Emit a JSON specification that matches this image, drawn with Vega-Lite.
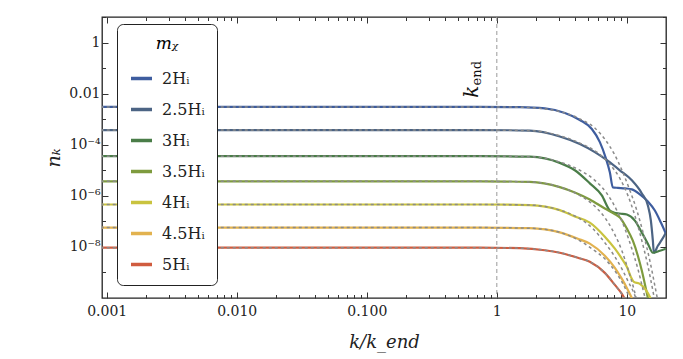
{
  "$schema": "https://vega.github.io/schema/vega-lite/v6.json",
  "width": 564,
  "height": 281,
  "autosize": {"type": "none"},
  "padding": {"left": 102, "top": 17, "right": 17, "bottom": 61},
  "background": "white",
  "config": {
    "font": "DejaVu Serif",
    "view": {"stroke": "#222", "strokeWidth": 1.3},
    "axis": {"grid": false, "domain": false, "labelFont": "DejaVu Serif", "labelFontSize": 14, "labelColor": "#222", "tickColor": "#333", "tickWidth": 1, "titleFont": "DejaVu Serif", "titleFontWeight": "normal", "titleColor": "#222"},
    "legend": {"labelFont": "DejaVu Serif", "titleFont": "DejaVu Serif"},
    "text": {"font": "DejaVu Serif"}
  },
  "datasets": {
    "solid": [
      {"m":"2Hᵢ","k":0.0009,"n":3.02e-3},{"m":"2Hᵢ","k":0.74,"n":3.02e-3},{"m":"2Hᵢ","k":1.5,"n":2.95e-3},{"m":"2Hᵢ","k":2.34,"n":2.65e-3},{"m":"2Hᵢ","k":3.34,"n":1.75e-3},{"m":"2Hᵢ","k":4.35,"n":9.31e-4},{"m":"2Hᵢ","k":5.38,"n":4.11e-4},{"m":"2Hᵢ","k":6.2,"n":1.26e-4},{"m":"2Hᵢ","k":6.89,"n":2.97e-5},{"m":"2Hᵢ","k":7.4,"n":8.34e-6},{"m":"2Hᵢ","k":7.8,"n":2.14e-6},{"m":"2Hᵢ","k":8.53,"n":2.05e-6},{"m":"2Hᵢ","k":9.66,"n":1.96e-6},{"m":"2Hᵢ","k":10.92,"n":1.79e-6},{"m":"2Hᵢ","k":12.59,"n":1.14e-6},{"m":"2Hᵢ","k":14.51,"n":6.02e-7},{"m":"2Hᵢ","k":16.42,"n":2.66e-7},{"m":"2Hᵢ","k":18.27,"n":8.97e-8},{"m":"2Hᵢ","k":19.95,"n":3.31e-8},
      {"m":"2.5Hᵢ","k":0.0009,"n":3.76e-4},{"m":"2.5Hᵢ","k":0.74,"n":3.76e-4},{"m":"2.5Hᵢ","k":1.79,"n":3.55e-4},{"m":"2.5Hᵢ","k":3.05,"n":2.1e-4},{"m":"2.5Hᵢ","k":4.35,"n":1.06e-4},{"m":"2.5Hᵢ","k":5.67,"n":5.12e-5},{"m":"2.5Hᵢ","k":7.02,"n":2.48e-5},{"m":"2.5Hᵢ","k":8.83,"n":1.0e-5},{"m":"2.5Hᵢ","k":10.92,"n":4.04e-6},{"m":"2.5Hᵢ","k":13.04,"n":1.24e-6},{"m":"2.5Hᵢ","k":14.51,"n":4.19e-7},{"m":"2.5Hᵢ","k":15.3,"n":1.07e-7},{"m":"2.5Hᵢ","k":15.85,"n":1.75e-8},{"m":"2.5Hᵢ","k":16.14,"n":5.91e-9},{"m":"2.5Hᵢ","k":17.32,"n":1.11e-8},{"m":"2.5Hᵢ","k":18.6,"n":1.92e-8},{"m":"2.5Hᵢ","k":19.95,"n":3.62e-8},
      {"m":"3Hᵢ","k":0.0009,"n":3.56e-5},{"m":"3Hᵢ","k":0.74,"n":3.56e-5},{"m":"3Hᵢ","k":1.79,"n":3.4e-5},{"m":"3Hᵢ","k":3.05,"n":1.95e-5},{"m":"3Hᵢ","k":3.98,"n":1.0e-5},{"m":"3Hᵢ","k":5.19,"n":3.08e-6},{"m":"3Hᵢ","k":6.42,"n":1.04e-6},{"m":"3Hᵢ","k":7.4,"n":2.66e-7},{"m":"3Hᵢ","k":7.94,"n":2.22e-7},{"m":"3Hᵢ","k":8.83,"n":2.03e-7},{"m":"3Hᵢ","k":10.0,"n":1.85e-7},{"m":"3Hᵢ","k":11.52,"n":1.07e-7},{"m":"3Hᵢ","k":13.04,"n":3.62e-8},{"m":"3Hᵢ","k":14.51,"n":1.34e-8},{"m":"3Hᵢ","k":15.85,"n":5.91e-9},{"m":"3Hᵢ","k":17.95,"n":7.08e-9},{"m":"3Hᵢ","k":19.95,"n":8.5e-9},
      {"m":"3.5Hᵢ","k":0.0009,"n":3.69e-6},{"m":"3.5Hᵢ","k":0.74,"n":3.69e-6},{"m":"3.5Hᵢ","k":1.79,"n":3.5e-6},{"m":"3.5Hᵢ","k":3.05,"n":2.2e-6},{"m":"3.5Hᵢ","k":3.98,"n":1.36e-6},{"m":"3.5Hᵢ","k":5.19,"n":7.22e-7},{"m":"3.5Hᵢ","k":6.77,"n":3.19e-7},{"m":"3.5Hᵢ","k":7.94,"n":2.03e-7},{"m":"3.5Hᵢ","k":8.83,"n":1.41e-7},{"m":"3.5Hᵢ","k":10.0,"n":5.21e-8},{"m":"3.5Hᵢ","k":11.12,"n":1.75e-8},{"m":"3.5Hᵢ","k":12.15,"n":4.51e-9},{"m":"3.5Hᵢ","k":13.04,"n":1.16e-9},{"m":"3.5Hᵢ","k":13.75,"n":3.56e-10},{"m":"3.5Hᵢ","k":14.51,"n":1.0e-10},{"m":"3.5Hᵢ","k":14.77,"n":6.4e-11},
      {"m":"4Hᵢ","k":0.0009,"n":4.58e-7},{"m":"4Hᵢ","k":0.74,"n":4.58e-7},{"m":"4Hᵢ","k":1.79,"n":4.35e-7},{"m":"4Hᵢ","k":3.05,"n":2.75e-7},{"m":"4Hᵢ","k":3.98,"n":1.55e-7},{"m":"4Hᵢ","k":5.19,"n":8.97e-8},{"m":"4Hᵢ","k":6.77,"n":2.52e-8},{"m":"4Hᵢ","k":8.09,"n":8.5e-9},{"m":"4Hᵢ","k":9.16,"n":3.43e-9},{"m":"4Hᵢ","k":10.0,"n":1.66e-9},{"m":"4Hᵢ","k":10.73,"n":6.71e-10},{"m":"4Hᵢ","k":11.32,"n":4.26e-10},{"m":"4Hᵢ","k":12.59,"n":3.56e-10},{"m":"4Hᵢ","k":14.0,"n":2.07e-10},{"m":"4Hᵢ","k":15.57,"n":7.6e-11},{"m":"4Hᵢ","k":16.14,"n":4.9e-11},
      {"m":"4.5Hᵢ","k":0.0009,"n":5.7e-8},{"m":"4.5Hᵢ","k":0.74,"n":5.7e-8},{"m":"4.5Hᵢ","k":1.79,"n":5.4e-8},{"m":"4.5Hᵢ","k":3.05,"n":3.7e-8},{"m":"4.5Hᵢ","k":4.2,"n":2.1e-8},{"m":"4.5Hᵢ","k":5.19,"n":1.34e-8},{"m":"4.5Hᵢ","k":6.77,"n":4.51e-9},{"m":"4.5Hᵢ","k":8.09,"n":1.52e-9},{"m":"4.5Hᵢ","k":9.16,"n":5.6e-10},{"m":"4.5Hᵢ","k":10.0,"n":2.48e-10},{"m":"4.5Hᵢ","k":10.73,"n":1.2e-10},{"m":"4.5Hᵢ","k":11.32,"n":6.4e-11},
      {"m":"5Hᵢ","k":0.0009,"n":9.3e-9},{"m":"5Hᵢ","k":0.74,"n":9.3e-9},{"m":"5Hᵢ","k":1.5,"n":8.9e-9},{"m":"5Hᵢ","k":2.34,"n":7.4e-9},{"m":"5Hᵢ","k":3.05,"n":5.91e-9},{"m":"5Hᵢ","k":4.2,"n":3.76e-9},{"m":"5Hᵢ","k":5.19,"n":2.61e-9},{"m":"5Hᵢ","k":6.77,"n":9.64e-10},{"m":"5Hᵢ","k":8.09,"n":3.25e-10},{"m":"5Hᵢ","k":9.16,"n":1.44e-10},{"m":"5Hᵢ","k":10.0,"n":6.4e-11}
    ],
    "dashed": [
      {"m":"2Hᵢ","k":0.0009,"n":3.02e-3},{"m":"2Hᵢ","k":0.74,"n":3.02e-3},{"m":"2Hᵢ","k":1.5,"n":2.95e-3},{"m":"2Hᵢ","k":3.05,"n":2.0e-3},{"m":"2Hᵢ","k":4.35,"n":1.02e-3},{"m":"2Hᵢ","k":5.67,"n":4.51e-4},{"m":"2Hᵢ","k":6.77,"n":1.66e-4},{"m":"2Hᵢ","k":8.09,"n":3.9e-5},{"m":"2Hᵢ","k":9.31,"n":8.34e-6},{"m":"2Hᵢ","k":10.55,"n":1.63e-6},{"m":"2Hᵢ","k":11.94,"n":2.66e-7},{"m":"2Hᵢ","k":13.51,"n":2.76e-8},{"m":"2Hᵢ","k":15.03,"n":2.86e-9},{"m":"2Hᵢ","k":16.72,"n":1.89e-10},{"m":"2Hᵢ","k":17.32,"n":7.6e-11},
      {"m":"2.5Hᵢ","k":0.0009,"n":3.76e-4},{"m":"2.5Hᵢ","k":0.74,"n":3.76e-4},{"m":"2.5Hᵢ","k":1.79,"n":3.55e-4},{"m":"2.5Hᵢ","k":3.05,"n":2.25e-4},{"m":"2.5Hᵢ","k":4.35,"n":1.16e-4},{"m":"2.5Hᵢ","k":5.88,"n":5.12e-5},{"m":"2.5Hᵢ","k":7.4,"n":1.72e-5},{"m":"2.5Hᵢ","k":8.83,"n":4.84e-6},{"m":"2.5Hᵢ","k":10.18,"n":1.04e-6},{"m":"2.5Hᵢ","k":11.52,"n":1.69e-7},{"m":"2.5Hᵢ","k":13.04,"n":1.75e-8},{"m":"2.5Hᵢ","k":14.51,"n":1.82e-9},{"m":"2.5Hᵢ","k":16.14,"n":1.2e-10},{"m":"2.5Hᵢ","k":16.42,"n":7.6e-11},
      {"m":"3Hᵢ","k":0.0009,"n":3.56e-5},{"m":"3Hᵢ","k":0.74,"n":3.56e-5},{"m":"3Hᵢ","k":1.79,"n":3.4e-5},{"m":"3Hᵢ","k":3.05,"n":2.1e-5},{"m":"3Hᵢ","k":4.35,"n":1.0e-5},{"m":"3Hᵢ","k":5.67,"n":4.04e-6},{"m":"3Hᵢ","k":7.02,"n":1.24e-6},{"m":"3Hᵢ","k":8.38,"n":2.66e-7},{"m":"3Hᵢ","k":9.66,"n":5.21e-8},{"m":"3Hᵢ","k":10.92,"n":8.5e-9},{"m":"3Hᵢ","k":12.15,"n":1.39e-9},{"m":"3Hᵢ","k":13.51,"n":1.57e-10},{"m":"3Hᵢ","k":14.0,"n":7.6e-11},
      {"m":"3.5Hᵢ","k":0.0009,"n":3.69e-6},{"m":"3.5Hᵢ","k":0.74,"n":3.69e-6},{"m":"3.5Hᵢ","k":1.79,"n":3.5e-6},{"m":"3.5Hᵢ","k":3.05,"n":2.2e-6},{"m":"3.5Hᵢ","k":4.2,"n":1.14e-6},{"m":"3.5Hᵢ","k":5.47,"n":4.58e-7},{"m":"3.5Hᵢ","k":6.77,"n":1.41e-7},{"m":"3.5Hᵢ","k":7.94,"n":3.62e-8},{"m":"3.5Hᵢ","k":9.16,"n":7.08e-9},{"m":"3.5Hᵢ","k":10.18,"n":1.39e-9},{"m":"3.5Hᵢ","k":11.32,"n":2.26e-10},{"m":"3.5Hᵢ","k":11.94,"n":7.6e-11},
      {"m":"4Hᵢ","k":0.0009,"n":4.58e-7},{"m":"4Hᵢ","k":0.74,"n":4.58e-7},{"m":"4Hᵢ","k":1.79,"n":4.35e-7},{"m":"4Hᵢ","k":3.05,"n":2.75e-7},{"m":"4Hᵢ","k":4.2,"n":1.41e-7},{"m":"4Hᵢ","k":5.47,"n":5.21e-8},{"m":"4Hᵢ","k":6.77,"n":1.46e-8},{"m":"4Hᵢ","k":8.09,"n":4.11e-9},{"m":"4Hᵢ","k":9.16,"n":1.39e-9},{"m":"4Hᵢ","k":10.18,"n":4.67e-10},{"m":"4Hᵢ","k":11.32,"n":1.57e-10},{"m":"4Hᵢ","k":11.94,"n":7.6e-11},
      {"m":"4.5Hᵢ","k":0.0009,"n":5.7e-8},{"m":"4.5Hᵢ","k":0.74,"n":5.7e-8},{"m":"4.5Hᵢ","k":1.79,"n":5.4e-8},{"m":"4.5Hᵢ","k":3.05,"n":3.7e-8},{"m":"4.5Hᵢ","k":4.2,"n":1.92e-8},{"m":"4.5Hᵢ","k":5.38,"n":8.5e-9},{"m":"4.5Hᵢ","k":6.77,"n":3.43e-9},{"m":"4.5Hᵢ","k":8.09,"n":1.16e-9},{"m":"4.5Hᵢ","k":9.16,"n":4.26e-10},{"m":"4.5Hᵢ","k":10.18,"n":1.44e-10},{"m":"4.5Hᵢ","k":10.73,"n":7.6e-11},
      {"m":"5Hᵢ","k":0.0009,"n":9.3e-9},{"m":"5Hᵢ","k":0.74,"n":9.3e-9},{"m":"5Hᵢ","k":1.5,"n":8.9e-9},{"m":"5Hᵢ","k":2.34,"n":7.4e-9},{"m":"5Hᵢ","k":3.05,"n":5.91e-9},{"m":"5Hᵢ","k":4.2,"n":3.76e-9},{"m":"5Hᵢ","k":5.19,"n":2.61e-9},{"m":"5Hᵢ","k":6.77,"n":9.64e-10},{"m":"5Hᵢ","k":8.09,"n":3.25e-10},{"m":"5Hᵢ","k":9.16,"n":1.44e-10},{"m":"5Hᵢ","k":10.0,"n":6.4e-11}
    ]
  },
  "layer": [
    {
      "data": {"name": "solid"},
      "mark": {"type": "line", "strokeWidth": 2.2, "interpolate": "monotone", "clip": true},
      "encoding": {
        "x": {"field": "k", "type": "quantitative", "scale": {"type": "log", "domain": [0.00092, 20], "nice": false},
          "axis": {"orient": "bottom", "values": [0.001, 0.01, 0.1, 1, 10], "tickSize": -6, "labelPadding": 12,
            "labelExpr": "datum.value < 0.005 ? '0.001' : datum.value < 0.05 ? '0.010' : datum.value < 0.5 ? '0.100' : datum.value < 5 ? '1' : '10'",
            "title": "k/k_end", "titleFontSize": 18, "titleFontStyle": "italic", "titlePadding": 15}},
        "y": {"field": "n", "type": "quantitative", "scale": {"type": "log", "domain": [1e-10, 10], "nice": false},
          "axis": {"orient": "left", "values": [1, 0.01, 0.0001, 0.000001, 0.00000001], "tickSize": -6, "labelPadding": 8,
            "labelExpr": "datum.value > 0.5 ? '1' : datum.value > 0.005 ? '0.01' : datum.value > 5e-5 ? '10⁻⁴' : datum.value > 5e-7 ? '10⁻⁶' : '10⁻⁸'",
            "title": "nₖ", "titleFontSize": 19, "titleFontStyle": "italic", "titlePadding": 5}},
        "color": {"field": "m", "type": "nominal",
          "scale": {"domain": ["2Hᵢ","2.5Hᵢ","3Hᵢ","3.5Hᵢ","4Hᵢ","4.5Hᵢ","5Hᵢ"], "range": ["#3e5d9f","#4c6484","#4a7d48","#7e9b3e","#c9c33f","#e2b24f","#d05c3f"]},
          "legend": {"orient": "none", "legendX": 15, "legendY": 7, "title": "mᵪ", "titleFontSize": 17, "titleFontStyle": "italic", "titleFontWeight": "normal", "titleAnchor": "middle", "titlePadding": 13,
            "fillColor": "white", "strokeColor": "#222", "cornerRadius": 6, "padding": 12, "symbolType": "stroke", "symbolSize": 441, "symbolStrokeWidth": 3.5,
            "rowPadding": 10, "labelFontSize": 16, "labelOffset": 8, "labelColor": "#222"}}
      }
    },
    {
      "data": {"name": "dashed"},
      "mark": {"type": "line", "strokeWidth": 1.5, "color": "#8a8a8a", "strokeDash": [3, 3], "interpolate": "monotone", "clip": true},
      "encoding": {
        "x": {"field": "k", "type": "quantitative", "scale": {"type": "log", "domain": [0.00092, 20], "nice": false},
          "axis": {"orient": "bottom", "values": [0.002,0.003,0.004,0.005,0.006,0.007,0.008,0.009,0.02,0.03,0.04,0.05,0.06,0.07,0.08,0.09,0.2,0.3,0.4,0.5,0.6,0.7,0.8,0.9,2,3,4,5,6,7,8,9], "tickSize": -3.5, "labels": false, "title": null}},
        "y": {"field": "n", "type": "quantitative", "scale": {"type": "log", "domain": [1e-10, 10], "nice": false},
          "axis": {"orient": "left", "values": [10, 0.1, 0.001, 0.00001, 0.0000001, 0.000000001], "tickSize": -3.5, "labels": false, "title": null}},
        "detail": {"field": "m"}
      }
    },
    {
      "data": {"values": [{"k": 1}]},
      "mark": {"type": "rule", "color": "#999", "strokeWidth": 1, "strokeDash": [4, 3]},
      "encoding": {
        "x": {"field": "k", "type": "quantitative", "scale": {"type": "log", "domain": [0.00092, 20], "nice": false},
          "axis": {"orient": "top", "values": [0.001, 0.01, 0.1, 1, 10], "tickSize": -6, "labels": false, "title": null}}
      }
    },
    {
      "data": {"values": [{"k": 0.714, "n": 0.0118, "t": "k"}]},
      "mark": {"type": "text", "angle": 270, "align": "center", "baseline": "alphabetic", "fontSize": 20, "fontStyle": "italic", "color": "#111"},
      "encoding": {
        "x": {"field": "k", "type": "quantitative", "scale": {"type": "log", "domain": [0.00092, 20], "nice": false},
          "axis": {"orient": "top", "values": [0.002,0.003,0.004,0.005,0.006,0.007,0.008,0.009,0.02,0.03,0.04,0.05,0.06,0.07,0.08,0.09,0.2,0.3,0.4,0.5,0.6,0.7,0.8,0.9,2,3,4,5,6,7,8,9], "tickSize": -3.5, "labels": false, "title": null}},
        "y": {"field": "n", "type": "quantitative", "scale": {"type": "log", "domain": [1e-10, 10], "nice": false},
          "axis": {"orient": "right", "values": [1, 0.01, 0.0001, 0.000001, 0.00000001], "tickSize": -6, "labels": false, "title": null}},
        "text": {"field": "t"}
      }
    },
    {
      "data": {"values": [{"k": 0.76, "n": 0.063, "t": "end"}]},
      "mark": {"type": "text", "angle": 270, "align": "center", "baseline": "alphabetic", "fontSize": 13, "color": "#111"},
      "encoding": {
        "x": {"field": "k", "type": "quantitative", "scale": {"type": "log", "domain": [0.00092, 20], "nice": false}, "axis": null},
        "y": {"field": "n", "type": "quantitative", "scale": {"type": "log", "domain": [1e-10, 10], "nice": false},
          "axis": {"orient": "right", "values": [10, 0.1, 0.001, 0.00001, 0.0000001, 0.000000001], "tickSize": -3.5, "labels": false, "title": null}},
        "text": {"field": "t"}
      }
    }
  ],
  "resolve": {"axis": {"x": "independent", "y": "independent"}}
}
